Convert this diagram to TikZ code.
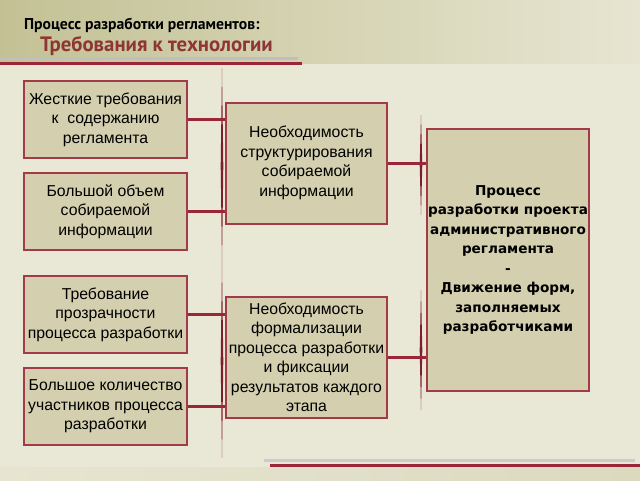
\documentclass[tikz,border=0pt]{standalone}
\usepackage{fontspec}
\setmainfont{Liberation Sans}
\newfontfamily\headfont{PT Sans}
\newfontfamily\procfont{DejaVu Sans}
\usetikzlibrary{calc}

\definecolor{bodybg}{HTML}{E9E7D5}
\definecolor{headleft}{HTML}{C3C194}
\definecolor{headright}{HTML}{E7E5D1}
\definecolor{boxfill}{HTML}{D4CFAE}
\definecolor{boxline}{HTML}{A33A48}
\definecolor{linkred}{HTML}{9A2638}
\definecolor{titlered}{HTML}{8E3535}

% thin tapered stroke: x, top y, bottom y
\newcommand{\drawSpindle}[3]{
	\fill[linkred!80!black] (#1,#2) -- ({#1+1.3},{(#2+#3)/2}) -- (#1,#3) -- ({#1-1.3},{(#2+#3)/2}) -- cycle;
}

\tikzset{
	reqbox/.style={draw=boxline, line width=2pt, fill=boxfill, minimum width=163pt, minimum height=77pt,
		inner sep=0pt, align=center, font=\fontsize{15.8}{19.5}\selectfont},
	needbox/.style={reqbox, minimum width=161pt, minimum height=121pt},
	link/.style={draw=linkred, line width=3pt}
}

\begin{document}
\begin{tikzpicture}[x=1pt, y=-1pt]
%%%%%%%%%%%%%%%%%%

%Background
\useasboundingbox (0,0) rectangle (640,480);
\fill[bodybg] (0,0) rectangle (640,480);
\shade[left color=headleft, right color=headright] (0,0) rectangle (640,63);
\shade[left color=headright, middle color=headleft!85!white, right color=headleft!60!white] (0,467) rectangle (640,480);
\fill[black!25] (0,57) rectangle (298,60);
\fill[linkred] (0,62) rectangle (302,65);
\fill[black!20] (264,459) rectangle (635,462);
\fill[linkred] (270,464) rectangle (640,467);

%Title
\node[anchor=west, inner sep=0pt, font=\headfont\bfseries\fontsize{15.7}{18}\selectfont] (title) at (24,25) {Процесс разработки регламентов:};
\node[anchor=west, inner sep=0pt, text=titlered, font=\headfont\bfseries\fontsize{20.8}{24}\selectfont] (subtitle) at (40,46) {Требования к технологии};

%Spindles
\drawSpindle{222}{68}{264}
\drawSpindle{222}{264}{458}
\drawSpindle{421}{115}{215}
\drawSpindle{421}{290}{410}

%Left column
\node[reqbox] (hard) at (105.5,119.5) {Жесткие требования\\к~~содержанию\\регламента};
\node[reqbox] (volume) at (105.5,211.5) {Большой объем\\собираемой\\информации};
\node[reqbox] (clear) at (105.5,314.5) {Требование\\прозрачности\\процесса разработки};
\node[reqbox] (people) at (105.5,406.5) {Большое количество\\участников процесса\\разработки};

%Middle column
\node[needbox] (struct) at (306.5,163) {Необходимость\\структурирования\\собираемой\\информации};
\node[needbox] (formal) at (306.5,357.5) {Необходимость\\формализации\\процесса разработки\\и фиксации\\результатов каждого\\этапа};

%Right box
\node[reqbox, minimum width=162pt, minimum height=262pt, font=\procfont\bfseries\fontsize{13.6}{19.5}\selectfont] (proc) at (508,260)
	{Процесс\\разработки проекта\\административного\\регламента\\-\\Движение форм,\\заполняемых\\разработчиками};

%Connect boxes
\foreach \a/\b in {hard/struct, volume/struct, clear/formal, people/formal}
	\draw[link] (\a.east) -- (\a.east -| \b.west);
\foreach \b in {struct, formal}
	\draw[link] (\b.east) -- (\b.east -| proc.west);

\end{tikzpicture}
\end{document}
